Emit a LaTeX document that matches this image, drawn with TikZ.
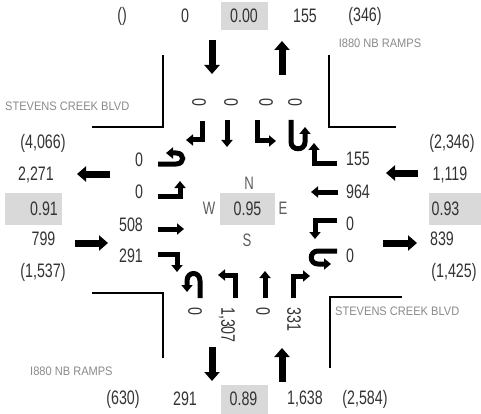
\documentclass[tikz,border=0pt]{standalone}
\usepackage{fontspec}
\setmainfont{Liberation Sans}
\newfontfamily\numfont{Liberation Sans}[FakeStretch=0.73]
\newfontfamily\lblfont{Liberation Sans}[FakeStretch=0.9]
\usetikzlibrary{arrows.meta}
\definecolor{numc}{HTML}{333333}
\definecolor{lblc}{HTML}{8A8A8A}
\definecolor{boxc}{HTML}{D9D9D9}
\begin{document}
\begin{tikzpicture}[x=1pt,y=-1pt,
  num/.style={font=\numfont\fontsize{19.5}{20}\selectfont, text=numc, inner sep=0pt},
  dirl/.style={font=\numfont\fontsize{18}{19}\selectfont, text=numc!80, inner sep=0pt},
  lbl/.style={font=\lblfont\fontsize{12.3}{13}\selectfont, text=lblc, inner sep=0pt},
  vbox/.style={fill=boxc, draw=none},
  bigarrow/.style={line width=7pt, -{Triangle[width=15pt,length=9pt]}},
  turnarrow/.style={line width=5pt, -{Triangle[width=11pt,length=7pt]}},
  curb/.style={line width=2pt}
]
\useasboundingbox (0,0) rectangle (481,414);

% grey boxes
\fill[vbox] (221,2) rectangle (268,30);
\fill[vbox] (221,385) rectangle (268,414);
\fill[vbox] (5,193) rectangle (62,225);
\fill[vbox] (429,193) rectangle (481,225);
\fill[vbox] (220,193) rectangle (275,225);

% curbs
\draw[curb] (92,127) -- (163,127) -- (163,55);
\draw[curb] (329,55) -- (329,127) -- (396,127);
\draw[curb] (92,293) -- (163,293) -- (163,358);
\draw[curb] (402,297) -- (330,297) -- (330,368);

% street labels
\node[lbl] (lblTR) at (380,43) {I880 NB RAMPS};
\node[lbl, anchor=west] (lblTL) at (5,106) {STEVENS CREEK BLVD};
\node[lbl, anchor=west] (lblBR) at (335,311) {STEVENS CREEK BLVD};
\node[lbl, anchor=west] (lblBL) at (30,371) {I880 NB RAMPS};

% top row
\node[num] (t1) at (122,16) {()};
\node[num] (t2) at (185,16) {0};
\node[num] (t3) at (244,16) {0.00};
\node[num] (t4) at (305,16) {155};
\node[num] (t5) at (365,16) {(346)};

% bottom row
\node[num] (b1) at (123,399) {(630)};
\node[num] (b2) at (185,399) {291};
\node[num] (b3) at (243.5,399) {0.89};
\node[num] (b4) at (305,399) {1,638};
\node[num] (b5) at (365,399) {(2,584)};

% left column
\node[num] (l1) at (43,143) {(4,066)};
\node[num] (l2) at (36,175) {2,271};
\node[num] (l3) at (44,209) {0.91};
\node[num] (l4) at (43.5,239) {799};
\node[num] (l5) at (43,272) {(1,537)};

% right column
\node[num] (r1) at (452,143) {(2,346)};
\node[num] (r2) at (450,175) {1,119};
\node[num] (r3) at (445.5,209) {0.93};
\node[num] (r4) at (442,239) {839};
\node[num] (r5) at (454,272) {(1,425)};

% left approach volumes
\node[num] (la1) at (139,160) {0};
\node[num] (la2) at (139,192) {0};
\node[num] (la3) at (131,225) {508};
\node[num] (la4) at (131,256) {291};

% right approach volumes
\node[num] (ra1) at (358,159) {155};
\node[num] (ra2) at (358,192) {964};
\node[num] (ra3) at (350,224) {0};
\node[num] (ra4) at (350,256) {0};

% top approach volumes
\node[num, rotate=-90] (ta1) at (199,102) {0};
\node[num, rotate=-90] (ta2) at (231,102) {0};
\node[num, rotate=-90] (ta3) at (266,102) {0};
\node[num, rotate=-90] (ta4) at (295,102) {0};

% bottom approach volumes
\node[num, rotate=-90, anchor=west] (ba1) at (195,307) {0};
\node[num, rotate=-90, anchor=west] (ba2) at (227,307) {1,307};
\node[num, rotate=-90, anchor=west] (ba3) at (263,307) {0};
\node[num, rotate=-90, anchor=west] (ba4) at (294,307) {331};

% centre
\node[num] (cv) at (247.5,209) {0.95};
\node[dirl] (cn) at (249,183) {N};
\node[dirl] (cs) at (247,240) {S};
\node[dirl] (cw) at (209,208) {W};
\node[dirl] (ce) at (283,208) {E};

% big arrows
\draw[bigarrow] (212,40) -- (212,74);
\draw[bigarrow] (282,75) -- (282,41);
\draw[bigarrow] (212,347) -- (212,381);
\draw[bigarrow] (282,382) -- (282,348);
\draw[bigarrow] (110,174) -- (77,174);
\draw[bigarrow] (75,243) -- (108,243);
\draw[bigarrow] (418,173) -- (386,173);
\draw[bigarrow] (383,243) -- (417,243);

% southbound (top) turning arrows
\draw[turnarrow] (202,121) -- (202,140) -- (186,140);
\draw[turnarrow] (227,120) -- (227,147);
\draw[turnarrow] (257,120) -- (257,141) -- (276,141);
\draw[turnarrow] (291,120) -- (291,142) .. controls (291,151) and (305,151) .. (305,142) -- (305,127);

% eastbound (left) turning arrows
\draw[turnarrow] (158,164) -- (176,164) .. controls (185,164) and (185,153) .. (176,153) -- (166,153);
\draw[turnarrow] (158,196) -- (180,196) -- (180,181);
\draw[turnarrow] (158,229) -- (184,229);
\draw[turnarrow] (158,254) -- (177,254) -- (177,272);

% northbound (bottom) turning arrows
\draw[turnarrow] (200,298) -- (200,281) .. controls (200,271) and (187,271) .. (187,281) -- (187,292);
\draw[turnarrow] (235,298) -- (235,275) -- (218,275);
\draw[turnarrow] (265,298) -- (265,271);
\draw[turnarrow] (293,298) -- (293,276) -- (310,276);

% westbound (right) turning arrows
\draw[turnarrow] (337,163) -- (314,163) -- (314,143);
\draw[turnarrow] (338,192) -- (311,192);
\draw[turnarrow] (337,220) -- (315,220) -- (315,239);
\draw[turnarrow] (337,251) -- (318,251) .. controls (309,251) and (309,264) .. (318,264) -- (331,264);
\end{tikzpicture}
\end{document}
